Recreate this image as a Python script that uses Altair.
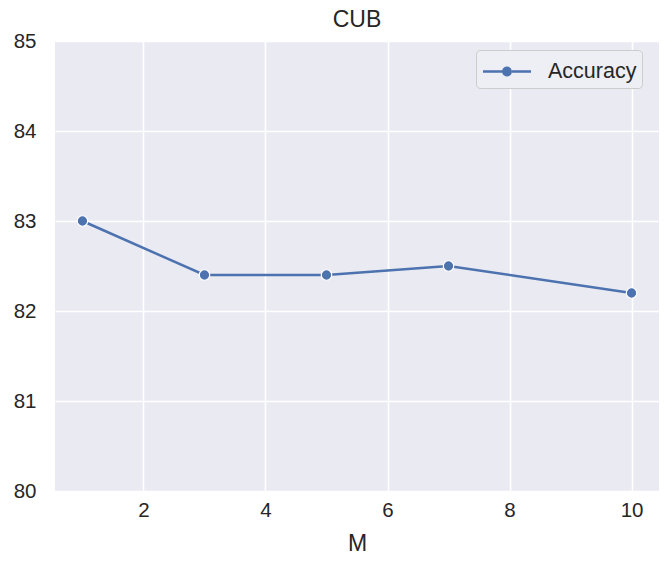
import altair as alt
import pandas as pd

m_values = [1, 3, 5, 7, 10]
accuracy = [83.0, 82.4, 82.4, 82.5, 82.2]
series = ["Accuracy"] * len(m_values)
y_ticks = [80, 81, 82, 83, 84, 85]
x_ticks = [2, 4, 6, 8, 10]

df = pd.DataFrame({"M": m_values, "Accuracy": accuracy, "series": series})

FONT = "Liberation Sans"
BLUE = "#4C72B0"

# legend symbol: line segment - dot - line segment
sym = ("M-1.5,-0.08H-0.31V0.08H-1.5Z "
       "M0.31,0A0.31,0.31 0 1,1 -0.31,0A0.31,0.31 0 1,1 0.31,0Z "
       "M0.31,-0.08H1.5V0.08H0.31Z")

x = alt.X("M:Q", title="M",
          scale=alt.Scale(domain=[0.55, 10.45], nice=False, zero=False),
          axis=alt.Axis(values=x_ticks, format="d", tickSize=0, domain=False,
                        labelPadding=9, titlePadding=12, labelFontSize=20.5,
                        titleFontSize=23, titleFontWeight="normal",
                        labelColor="#262626", titleColor="#262626",
                        labelFont=FONT, titleFont=FONT,
                        gridColor="white", gridWidth=1.6, gridOpacity=1))
y = alt.Y("Accuracy:Q", title=None,
          scale=alt.Scale(domain=[80, 85], nice=False, zero=False),
          axis=alt.Axis(values=y_ticks, format="d", tickSize=0, domain=False,
                        labelPadding=19, labelFontSize=20.5, labelColor="#262626",
                        labelFont=FONT, gridColor="white", gridWidth=1.6,
                        gridOpacity=1))
color = alt.Color("series:N", title=None,
                  scale=alt.Scale(domain=["Accuracy"], range=[BLUE]),
                  legend=alt.Legend(orient="none", legendX=421, legendY=9,
                                    symbolType=sym, symbolSize=1024,
                                    symbolStrokeWidth=0, symbolFillColor=BLUE,
                                    symbolOffset=9.5,
                                    labelFontSize=21.5, labelFont=FONT,
                                    labelColor="#262626", labelOffset=25,
                                    padding=5.5, cornerRadius=4,
                                    fillColor="#EEEEF5", strokeColor="#CCCCCC",
                                    symbolOpacity=1))

line = alt.Chart(df).mark_line(strokeWidth=2.5).encode(x=x, y=y, color=color)
points = alt.Chart(df).mark_point(filled=True, size=110, stroke="white",
                                  strokeWidth=1.2, opacity=1,
                                  fill=BLUE).encode(x=x, y=y)

chart = alt.layer(line, points).properties(
    width=604, height=450,
    background="white",
    title=alt.TitleParams("CUB", fontSize=23, font=FONT, fontWeight="normal",
                          color="#262626", offset=-1),
    autosize=alt.AutoSizeParams(type="none"),
    padding={"left": 47, "top": 33, "right": 5, "bottom": 75},
).configure_view(fill="#EAEAF2", stroke=None).configure_title(fontSize=23)

chart.save("out.html", embed_options={"renderer": "svg", "actions": False})
